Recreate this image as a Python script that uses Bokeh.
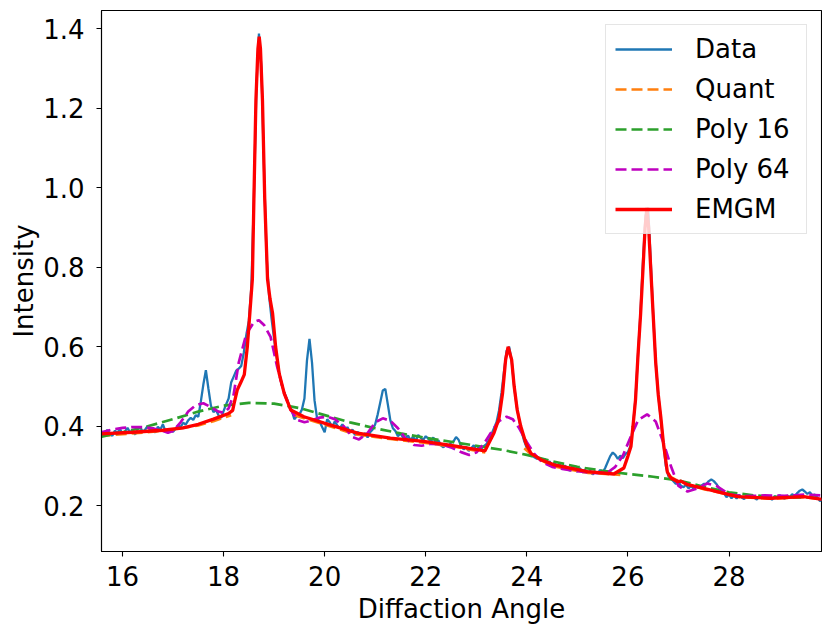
import numpy as np
from bokeh.plotting import figure
from bokeh.models import FixedTicker, PrintfTickFormatter, Range1d, Legend, LegendItem
from bokeh.embed import file_html
from bokeh.resources import INLINE

# ---------------- data ----------------
data_x0, data_step = 15.55, 0.05
data_y = [
    0.372, 0.385, 0.378, 0.391, 0.382, 0.376, 0.389, 0.383, 0.394, 0.380, 0.387, 0.396, 0.384, 0.391, 0.379, 0.393, 0.398, 0.386, 0.392, 0.401,
    0.389, 0.396, 0.384, 0.399, 0.392, 0.405, 0.388, 0.384, 0.391, 0.386, 0.394, 0.402, 0.398, 0.409, 0.404, 0.415, 0.421, 0.416, 0.428, 0.424,
    0.462, 0.505, 0.541, 0.495, 0.452, 0.436, 0.441, 0.428, 0.421, 0.438, 0.455, 0.470, 0.510, 0.525, 0.540, 0.545, 0.552, 0.585, 0.630, 0.665,
    0.750, 0.975, 1.255, 1.388, 1.300, 1.050, 0.830, 0.730, 0.670, 0.620, 0.575, 0.535, 0.505, 0.485, 0.470, 0.452, 0.440, 0.418, 0.425, 0.430,
    0.442, 0.470, 0.565, 0.620, 0.560, 0.465, 0.420, 0.412, 0.398, 0.385, 0.418, 0.410, 0.398, 0.412, 0.402, 0.395, 0.405, 0.389, 0.398, 0.385,
    0.392, 0.378, 0.386, 0.381, 0.374, 0.383, 0.372, 0.385, 0.392, 0.405, 0.430, 0.460, 0.490, 0.494, 0.455, 0.415, 0.395, 0.388, 0.375, 0.382,
    0.372, 0.368, 0.377, 0.365, 0.374, 0.362, 0.378, 0.371, 0.366, 0.375, 0.369, 0.361, 0.372, 0.358, 0.365, 0.352, 0.347, 0.356, 0.349, 0.359,
    0.362, 0.373, 0.366, 0.350, 0.342, 0.348, 0.338, 0.345, 0.352, 0.340, 0.348, 0.344, 0.350, 0.355, 0.365, 0.380, 0.395, 0.410, 0.440, 0.485,
    0.540, 0.590, 0.600, 0.565, 0.500, 0.450, 0.415, 0.385, 0.362, 0.345, 0.335, 0.328, 0.322, 0.318, 0.320, 0.312, 0.318, 0.306, 0.312, 0.302,
    0.308, 0.298, 0.305, 0.294, 0.301, 0.296, 0.288, 0.299, 0.292, 0.286, 0.295, 0.284, 0.291, 0.282, 0.289, 0.279, 0.286, 0.281, 0.290, 0.284,
    0.295, 0.310, 0.325, 0.334, 0.328, 0.318, 0.326, 0.320, 0.330, 0.335, 0.350, 0.400, 0.470, 0.580, 0.690, 0.820, 0.930, 0.950, 0.820, 0.680,
    0.560, 0.480, 0.420, 0.360, 0.300, 0.275, 0.268, 0.262, 0.255, 0.260, 0.250, 0.247, 0.253, 0.244, 0.250, 0.243, 0.248, 0.245, 0.250, 0.255,
    0.255, 0.262, 0.266, 0.262, 0.255, 0.245, 0.238, 0.232, 0.222, 0.228, 0.219, 0.226, 0.218, 0.228, 0.221, 0.217, 0.225, 0.219, 0.227, 0.220,
    0.216, 0.224, 0.219, 0.226, 0.218, 0.222, 0.215, 0.224, 0.220, 0.227, 0.221, 0.218, 0.225, 0.222, 0.229, 0.224, 0.232, 0.238, 0.241, 0.236,
    0.230, 0.234, 0.226, 0.228, 0.221, 0.212, 0.215,
]
data_x = np.round(data_x0 + data_step * np.arange(len(data_y)), 3)

quant_x = [15.55, 16.0, 16.5, 17.0, 17.5, 17.8, 18.15, None,
           19.4, 20.0, 20.6, 21.3, 22.0, 22.6, 23.18, None,
           23.95, 24.1, 24.5, 25.2, 25.85, None,
           26.8, 27.0, 27.5, 28.2, 28.8, 29.5, 29.85]
quant_y = [0.376, 0.380, 0.385, 0.392, 0.402, 0.413, 0.428, None,
           0.428, 0.404, 0.380, 0.368, 0.358, 0.348, 0.334, None,
           0.345, 0.328, 0.300, 0.283, 0.278, None,
           0.276, 0.262, 0.242, 0.222, 0.218, 0.222, 0.216]

poly16_x = [15.55, 16.0, 16.5, 17.0, 17.5, 18.0, 18.5, 19.0, 19.5, 20.0, 20.5, 21.0, 21.5, 22.0, 22.5,
            23.0, 23.5, 24.0, 24.5, 25.0, 25.5, 26.0, 26.5, 27.0, 27.5, 28.0, 28.5, 29.0, 29.5, 29.85]
poly16_y = [0.373, 0.385, 0.400, 0.418, 0.437, 0.452, 0.459, 0.457, 0.446, 0.428, 0.410, 0.395, 0.382, 0.371, 0.361,
            0.351, 0.341, 0.328, 0.312, 0.298, 0.288, 0.280, 0.273, 0.264, 0.248, 0.234, 0.226, 0.222, 0.221, 0.220]

poly64_x = [15.55, 15.8, 16.0, 16.2, 16.4, 16.6, 16.8, 16.9, 17.0, 17.15, 17.3, 17.45, 17.6, 17.75, 17.9, 18.0, 18.1,
            18.2, 18.3, 18.45, 18.6, 18.7, 18.8, 18.93, 19.06, 19.2, 19.33, 19.46, 19.6, 19.75, 19.9, 20.05, 20.2,
            20.38, 20.55, 20.68, 20.85, 21.0, 21.15, 21.3, 21.45, 21.6, 21.77, 21.92, 22.1, 22.3, 22.5, 22.7, 22.86,
            23.0, 23.15, 23.3, 23.45, 23.6, 23.72, 23.85, 24.0, 24.14, 24.3, 24.5, 24.7, 25.0, 25.3, 25.6, 25.75,
            25.9, 26.06, 26.2, 26.38, 26.55, 26.7, 26.85, 27.0, 27.18, 27.38, 27.57, 27.75, 28.0, 28.3, 28.7, 29.1,
            29.5, 29.85]
poly64_y = [0.384, 0.392, 0.396, 0.398, 0.398, 0.395, 0.388, 0.384, 0.388, 0.410, 0.437, 0.453, 0.458, 0.448, 0.437, 0.434, 0.445,
            0.480, 0.560, 0.632, 0.662, 0.667, 0.655, 0.625, 0.550, 0.483, 0.441, 0.416, 0.410, 0.415, 0.422, 0.424, 0.418,
            0.400, 0.373, 0.367, 0.383, 0.410, 0.420, 0.414, 0.395, 0.370, 0.353, 0.351, 0.356, 0.355, 0.347, 0.335, 0.328,
            0.334, 0.356, 0.386, 0.413, 0.424, 0.418, 0.395, 0.360, 0.332, 0.310, 0.298, 0.293, 0.287, 0.282, 0.284, 0.298,
            0.326, 0.375, 0.415, 0.430, 0.412, 0.360, 0.300, 0.250, 0.236, 0.244, 0.256, 0.250, 0.229, 0.224, 0.226, 0.225,
            0.228, 0.226]

emgm_x = [15.55, 16.2, 16.8, 17.2, 17.5, 17.8, 18.1, 18.18, 18.21, 18.27, 18.34, 18.41, 18.47, 18.52, 18.57, 18.60,
          18.64, 18.68, 18.705, 18.73, 18.77, 18.815, 18.87, 18.92, 18.97, 19.03, 19.10, 19.20, 19.33, 19.59, 19.99,
          20.65, 21.3, 21.96, 22.5, 23.17, 23.25, 23.35, 23.45, 23.52, 23.58, 23.63, 23.70, 23.75, 23.81, 23.88, 23.98,
          24.08, 24.28, 24.54, 25.2, 25.72, 25.92, 26.00, 26.06, 26.10, 26.15, 26.20, 26.25, 26.30, 26.34, 26.375,
          26.41, 26.45, 26.50, 26.55, 26.60, 26.65, 26.70, 26.78, 26.85, 26.98, 27.05, 27.18, 27.5, 28.17, 28.82,
          29.48, 29.85]
emgm_y = [0.381, 0.385, 0.390, 0.396, 0.405, 0.418, 0.432, 0.440, 0.458, 0.491, 0.510, 0.530, 0.600, 0.684, 0.770, 0.970,
          1.220, 1.350, 1.380, 1.350, 1.220, 0.970, 0.770, 0.720, 0.684, 0.600, 0.533, 0.483, 0.441, 0.424, 0.408,
          0.383, 0.370, 0.362, 0.352, 0.338, 0.358, 0.383, 0.420, 0.483, 0.567, 0.600, 0.567, 0.500, 0.441, 0.400, 0.358,
          0.332, 0.316, 0.303, 0.286, 0.280, 0.295, 0.325, 0.349, 0.400, 0.466, 0.580, 0.680, 0.800, 0.900, 0.950,
          0.900, 0.800, 0.680, 0.560, 0.480, 0.424, 0.360, 0.285, 0.270, 0.261, 0.262, 0.253, 0.244, 0.223, 0.219,
          0.223, 0.216]

x_ticks = [16, 18, 20, 22, 24, 26, 28]
y_ticks = [0.2, 0.4, 0.6, 0.8, 1.0, 1.2, 1.4]
labels = ["Data", "Quant", "Poly 16", "Poly 64", "EMGM"]

def nanify(v):
    return [np.nan if a is None else a for a in v]

# ---------------- figure ----------------
FONT = "DejaVu Sans"
p = figure(width=822, height=626, output_backend="svg", toolbar_location=None,
           x_range=Range1d(15.585, 29.83), y_range=Range1d(0.085, 1.446),
           min_border_left=101, min_border_right=1, min_border_top=10, min_border_bottom=74)
p.background_fill_color = "white"
p.border_fill_color = "white"
p.outline_line_color = "black"
p.outline_line_width = 1.1
p.xgrid.visible = False
p.ygrid.visible = False

r_data = p.line(data_x, data_y, line_color="#1f77b4", line_width=2.3)
r_quant = p.line(nanify(quant_x), nanify(quant_y), line_color="#ff7f0e", line_width=2.7, line_dash="11 5")
r_p16 = p.line(poly16_x, poly16_y, line_color="#2ca02c", line_width=2.7, line_dash="11 5")
r_p64 = p.line(poly64_x, poly64_y, line_color="#bf00bf", line_width=2.7, line_dash="11 5")
r_emgm = p.line(emgm_x, emgm_y, line_color="#ff0000", line_width=3.3)

for ax in (p.xaxis[0], p.yaxis[0]):
    ax.axis_line_color = "black"
    ax.axis_line_width = 1.1
    ax.major_tick_line_color = "black"
    ax.major_tick_line_width = 1.1
    ax.major_tick_out = 5
    ax.major_tick_in = 0
    ax.minor_tick_line_color = None
    ax.major_label_text_font = FONT
    ax.major_label_text_font_size = "26px"
    ax.major_label_text_color = "black"
    ax.axis_label_text_font = FONT
    ax.axis_label_text_font_size = "26px"
    ax.axis_label_text_font_style = "normal"
    ax.axis_label_text_color = "black"

p.xaxis.ticker = FixedTicker(ticks=x_ticks)
p.yaxis.ticker = FixedTicker(ticks=y_ticks)
p.yaxis.formatter = PrintfTickFormatter(format="%.1f")
p.xaxis.axis_label = "Diffaction Angle"
p.yaxis.axis_label = "Intensity"
p.xaxis.major_label_standoff = 9
p.yaxis.major_label_standoff = 12
p.xaxis.axis_label_standoff = 5
p.yaxis.axis_label_standoff = 1

legend = Legend(items=[LegendItem(label=l, renderers=[r]) for l, r in
                       zip(labels, [r_data, r_quant, r_p16, r_p64, r_emgm])],
                location="top_right")
legend.margin = 14
legend.padding = 9
legend.spacing = 10
legend.glyph_width = 57
legend.glyph_height = 30
legend.label_height = 30
legend.label_width = 102
legend.label_standoff = 23
legend.label_text_font = FONT
legend.label_text_font_size = "26px"
legend.label_text_color = "black"
legend.label_text_baseline = "middle"
legend.background_fill_color = "white"
legend.background_fill_alpha = 0.8
legend.border_line_color = "#cccccc"
legend.border_line_width = 1.2
p.add_layout(legend)

open("out.html", "w").write(file_html(p, INLINE))
